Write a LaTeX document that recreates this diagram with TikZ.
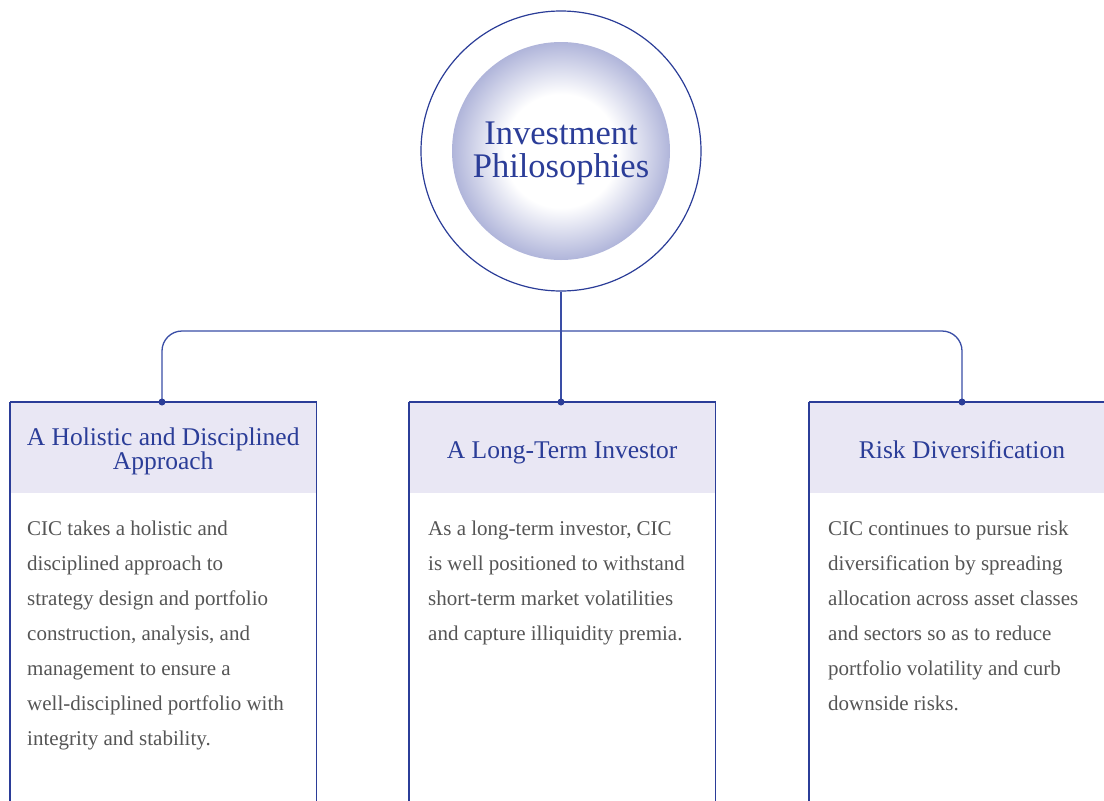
\documentclass[tikz,border=0pt]{standalone}
\usepackage{fontspec}
\setmainfont{Liberation Serif}
\definecolor{navy}{HTML}{2B3D98}
\definecolor{linec}{HTML}{3A4EA6}
\definecolor{hdrfill}{HTML}{E9E7F4}
\definecolor{bodyc}{HTML}{555555}
\definecolor{edgec}{RGB}{176,181,218}
\pgfdeclareradialshading{ballshade}{\pgfpoint{0bp}{0bp}}{color(0bp)=(white); color(13bp)=(white); color(25bp)=(edgec); color(50bp)=(edgec)}
\tikzset{
  hdr/.style={rectangle, fill=hdrfill, minimum width=306pt, minimum height=91pt, anchor=north west, inner sep=0pt},
  hdrtext/.style={inner sep=0pt, text=navy, align=center, font=\fontsize{25.5}{24}\selectfont},
  bodytext/.style={anchor=north west, inner sep=0pt, align=left, text=bodyc, font=\fontsize{21}{35}\selectfont},
  boxline/.style={draw=navy, line width=1.2pt},
  conn/.style={draw=linec, line width=1.3pt},
  dotc/.style={circle, fill=navy, inner sep=0pt, minimum size=7pt}
}
\begin{document}
\begin{tikzpicture}[x=1pt,y=-1pt]
\useasboundingbox (0,0) rectangle (1104,801);
\clip (0,0) rectangle (1104,801);
\fill[white] (0,0) rectangle (1104,801);
% root
\node[circle, draw=navy, line width=1.2pt, minimum size=280pt, inner sep=0pt] (root) at (561,151) {};
\node[circle, shading=ballshade, minimum size=218pt, inner sep=0pt] (ball) at (561,151) {};
\node[inner sep=0pt, text=navy, align=center, font=\fontsize{34.5}{33}\selectfont] (title) at (561,153) {Investment\\Philosophies};
% headers
\node[hdr] (h1) at (10,402) {};
\node[hdr] (h2) at (409,402) {};
\node[hdr, minimum width=320pt] (h3) at (809,402) {};
\node[hdrtext, yshift=-4pt] (l1) at (h1.center) {A Holistic and Disciplined\\Approach};
\node[hdrtext, yshift=-5pt] (l2) at (h2.center) {A Long-Term Investor};
\node[hdrtext, yshift=-2pt] (l3) at (962,447.5) {Risk Diversification};
% box outlines
\draw[boxline] (h1.north west) -- ++(0,420) (h1.north west) -- (h1.north east) -- ++(0,420);
\draw[boxline] (h2.north west) -- ++(0,420) (h2.north west) -- (h2.north east) -- ++(0,420);
\draw[boxline] (h3.north west) -- ++(0,420) (h3.north west) -- (h3.north east);
% connectors
\coordinate (t1) at (162,402);
\coordinate (t3) at (962,402);
\coordinate (hl) at (162,331);
\coordinate (hr) at (962,331);
\draw[conn, rounded corners=20pt] (t1) -- (hl) -- (hr) -- (t3);
\draw[conn] (root.south) -- (root.south |- h2.north);
\node[dotc] (d1) at (t1) {};
\node[dotc] (d2) at (root.south |- h2.north) {};
\node[dotc] (d3) at (t3) {};
% body texts
\node[bodytext] (b1) at (27,521) {CIC takes a holistic and\\disciplined approach to\\strategy design and portfolio\\construction, analysis, and\\management to ensure a\\well-disciplined portfolio with\\integrity and stability.};
\node[bodytext] (b2) at (428,521) {As a long-term investor, CIC\\is well positioned to withstand\\short-term market volatilities\\and capture illiquidity premia.};
\node[bodytext] (b3) at (828,521) {CIC continues to pursue risk\\diversification by spreading\\allocation across asset classes\\and sectors so as to reduce\\portfolio volatility and curb\\downside risks.};
\end{tikzpicture}
\end{document}
